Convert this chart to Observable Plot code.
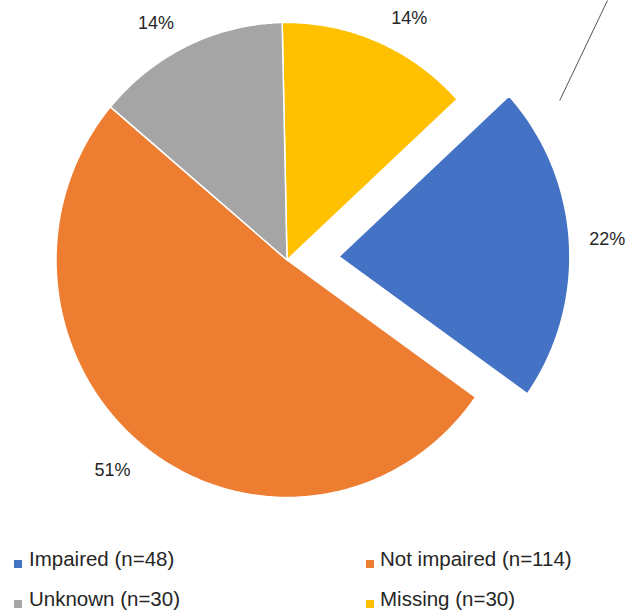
<!DOCTYPE html>
<html>
<head>
<meta charset="utf-8">
<script src="https://cdn.jsdelivr.net/npm/d3@7"></script>
<script src="https://cdn.jsdelivr.net/npm/@observablehq/plot@0.6"></script>
<style>
  body { margin: 0; background: #fff; font-family: "Liberation Sans", Arial, sans-serif; }
  #wrap { position: relative; width: 627px; height: 615px; overflow: hidden; }
  #legend { position: relative; width: 627px; height: 75px; }
  .item { position: absolute; font-size: 20.5px; line-height: 23px; color: #262626; white-space: nowrap; }
  .sw { position: absolute; width: 8px; height: 8px; }
</style>
</head>
<body>
<div id="wrap">
  <div id="chart"></div>
  <div id="legend"></div>
</div>
<script>
// ---- data ----
const categories = ["Impaired", "Not impaired", "Unknown", "Missing"];
const counts = [48, 114, 30, 30];
const colors = ["#4472C4", "#ED7D31", "#A5A5A5", "#FFC000"];
const drawOrder = ["Missing", "Impaired", "Not impaired", "Unknown"]; // clockwise from 12 o'clock
const explodedCategory = "Impaired";

// ---- layout ----
const W = 627, H = 540;
const cx = 287, cy = 260, rx = 231, ry = 237.5;
const startDeg = -1.2;
const explode = 0.225;
const labelK = 1.04;
const fontSize = 18;

const total = d3.sum(counts);
const rad = d => d * Math.PI / 180;
const countOf = c => counts[categories.indexOf(c)];

const wedgeRows = [];
const labels = [];
const canvas = document.createElement("canvas").getContext("2d");
canvas.font = `${fontSize}px "Liberation Sans", Arial, sans-serif`;
const clamp = v => Math.max(-1, Math.min(1, v));

let a = startDeg;
for (const cat of drawOrder) {
  const span = countOf(cat) / total * 360;
  const a0 = a, a1 = a + span, mid = (a0 + a1) / 2;
  a = a1;
  const off = cat === explodedCategory ? explode : 0;
  const ox = off * Math.sin(rad(mid)), oy = off * Math.cos(rad(mid));
  const n = Math.max(2, Math.ceil(span / 0.5));
  for (let i = 0; i <= n; i++) {
    const t = rad(a0 + (a1 - a0) * i / n);
    wedgeRows.push({cat, x1: ox, y1: oy, x2: ox + Math.sin(t), y2: oy + Math.cos(t)});
  }
  const s = Math.sin(rad(mid)), c = Math.cos(rad(mid));
  const text = Math.round(countOf(cat) / total * 100) + "%";
  const w = canvas.measureText(text).width;
  const hw = w / 2 + 10, hh = fontSize * 0.716 / 2 + 8.3;
  labels.push({
    text,
    x: ox + labelK * s + hw * clamp(2.5 * s) / rx,
    y: oy + labelK * c + hh * clamp(2.5 * c) / ry
  });
}

// stray leader line (polar, in pie radius units)
const leader = [
  {r: 1.359, deg: 60.2},
  {r: 1.764, deg: 51.7}
].map(p => ({x: p.r * Math.sin(rad(p.deg)), y: p.r * Math.cos(rad(p.deg))}));

const chart = Plot.plot({
  width: W,
  height: H,
  margin: 0,
  style: {fontFamily: '"Liberation Sans", Arial, sans-serif', background: "#fff"},
  x: {domain: [-cx / rx, (W - cx) / rx], range: [0, W], axis: null},
  y: {domain: [(cy - H) / ry, cy / ry], range: [H, 0], axis: null},
  color: {domain: categories, range: colors},
  marks: [
    Plot.area(wedgeRows, {x1: "x1", y1: "y1", x2: "x2", y2: "y2", z: "cat", fill: "cat",
      stroke: "white", strokeWidth: 1.5, strokeLinejoin: "round", curve: "linear"}),
    Plot.line(leader, {x: "x", y: "y", stroke: "#404040", strokeWidth: 0.9}),
    Plot.text(labels, {x: "x", y: "y", text: "text", fontSize, fill: "#262626",
      textAnchor: "middle", lineAnchor: "middle"})
  ]
});
document.getElementById("chart").appendChild(chart);

// ---- legend ----
const legend = document.getElementById("legend");
const legendPos = [[14, 29, 26], [366, 380, 26], [14, 29, 66], [366, 380, 66]];
categories.forEach((cat, i) => {
  const [sx, tx, base] = legendPos[i];
  const sw = document.createElement("div");
  sw.className = "sw";
  sw.style.left = sx + "px";
  sw.style.top = (base - 6) + "px";
  sw.style.background = colors[i];
  legend.appendChild(sw);
  const t = document.createElement("div");
  t.className = "item";
  t.style.left = tx + "px";
  t.style.top = (base - 18.6) + "px";
  t.textContent = `${cat} (n=${counts[i]})`;
  legend.appendChild(t);
});
</script>
</body>
</html>
